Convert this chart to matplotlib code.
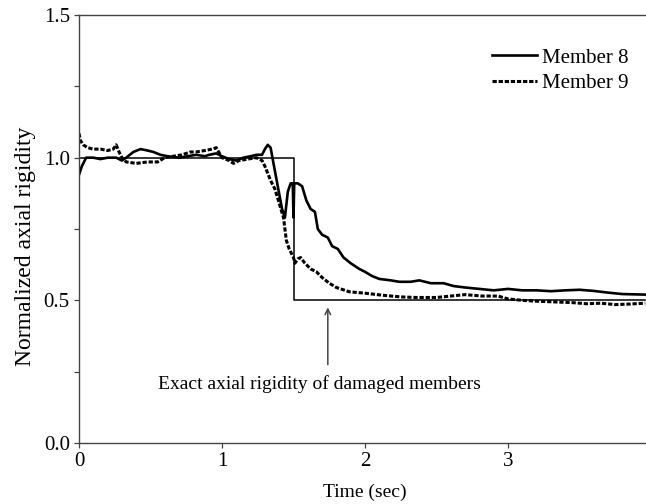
import matplotlib.pyplot as plt
from matplotlib.ticker import MultipleLocator

plt.rcParams['font.family'] = ['Liberation Serif', 'DejaVu Serif']

# Member 8 (solid)
t8 = [0.00, 0.02, 0.05, 0.10, 0.15, 0.20, 0.26, 0.30, 0.33, 0.38, 0.43, 0.48,
      0.52, 0.57, 0.62, 0.70, 0.76, 0.82, 0.88, 0.91, 0.96, 1.00, 1.05, 1.10,
      1.15, 1.20, 1.24, 1.28, 1.30, 1.32, 1.34, 1.36, 1.39, 1.42, 1.44, 1.46,
      1.48, 1.495, 1.50, 1.505, 1.53, 1.56, 1.59, 1.62, 1.65, 1.67, 1.70, 1.74,
      1.77, 1.81, 1.85, 1.90, 1.96, 2.00, 2.05, 2.10, 2.18, 2.24, 2.32, 2.38,
      2.46, 2.55, 2.62, 2.70, 2.80, 2.90, 3.00, 3.10, 3.20, 3.30, 3.40, 3.50,
      3.60, 3.70, 3.80, 3.96]
m8 = [0.94, 0.97, 1.00, 1.00, 0.995, 1.00, 1.00, 0.99, 1.00, 1.02, 1.03, 1.025,
      1.02, 1.01, 1.005, 1.00, 1.005, 1.01, 1.005, 1.01, 1.015, 1.005, 0.995, 0.99,
      1.00, 1.005, 1.01, 1.01, 1.03, 1.045, 1.035, 0.98, 0.90, 0.82, 0.79, 0.88,
      0.91, 0.91, 0.79, 0.91, 0.91, 0.90, 0.85, 0.82, 0.81, 0.75, 0.73, 0.72,
      0.69, 0.68, 0.65, 0.63, 0.61, 0.60, 0.585, 0.575, 0.57, 0.565, 0.565, 0.57,
      0.56, 0.56, 0.55, 0.545, 0.54, 0.535, 0.54, 0.535, 0.535, 0.532, 0.535, 0.537,
      0.533, 0.527, 0.522, 0.52]

# Member 9 (dashed)
t9 = [0.00, 0.01, 0.03, 0.06, 0.10, 0.15, 0.20, 0.24, 0.26, 0.28, 0.30, 0.33,
      0.40, 0.48, 0.55, 0.60, 0.66, 0.72, 0.78, 0.82, 0.88, 0.93, 0.96, 1.00,
      1.05, 1.08, 1.12, 1.18, 1.24, 1.28, 1.30, 1.34, 1.37, 1.40, 1.43, 1.45,
      1.47, 1.50, 1.51, 1.53, 1.55, 1.58, 1.62, 1.66, 1.70, 1.75, 1.80, 1.89,
      2.00, 2.12, 2.25, 2.36, 2.50, 2.60, 2.70, 2.82, 2.93, 3.00, 3.10, 3.20,
      3.30, 3.45, 3.55, 3.65, 3.75, 3.85, 3.96]
m9 = [1.085, 1.06, 1.045, 1.035, 1.03, 1.03, 1.025, 1.03, 1.045, 1.02, 1.00, 0.985,
      0.98, 0.985, 0.985, 1.00, 1.005, 1.01, 1.02, 1.02, 1.025, 1.03, 1.035, 1.00,
      0.99, 0.98, 0.99, 0.995, 1.00, 0.99, 0.97, 0.92, 0.89, 0.84, 0.79, 0.71,
      0.68, 0.65, 0.63, 0.645, 0.65, 0.63, 0.61, 0.60, 0.58, 0.56, 0.545, 0.53,
      0.525, 0.518, 0.512, 0.51, 0.51, 0.515, 0.52, 0.515, 0.515, 0.505, 0.50, 0.497,
      0.495, 0.492, 0.488, 0.49, 0.485, 0.487, 0.49]

# exact rigidity (step)
t_exact = [0.0, 1.5, 1.5, 3.96]
y_exact = [1.0, 1.0, 0.5, 0.5]

fig = plt.figure(figsize=(6.46, 5.04), dpi=100)
ax = fig.add_axes([79 / 646, 61 / 504, 572 / 646, 428 / 504])

ax.plot(t_exact, y_exact, color='black', lw=1.1)
ax.plot(t8, m8, color='black', lw=1.9, label='Member 8')
ax.plot(t9, m9, color='black', lw=2.2, linestyle=(0, (1.4, 0.6)), label='Member 9')

ax.annotate('', xy=(1.74, 0.485), xytext=(1.74, 0.265),
            arrowprops=dict(arrowstyle='->', color='#444444', lw=1.1))
ax.text(1.68, 0.205, 'Exact axial rigidity of damaged members',
        ha='center', va='center', fontsize=14)

ax.set_xlim(0, 4)
ax.set_ylim(0, 1.5)
ax.set_xticks([0, 1, 2, 3])
ax.yaxis.set_major_locator(MultipleLocator(0.5))
ax.yaxis.set_minor_locator(MultipleLocator(0.25))
ax.yaxis.set_major_formatter(plt.FormatStrFormatter('%.1f'))
ax.tick_params(direction='out', length=3.6, width=0.9, color='#444444',
               labelsize=15, pad=3)
ax.tick_params(which='minor', direction='out', length=3.6, width=0.9, color='#444444')
ax.spines['right'].set_visible(False)
for s in ['left', 'bottom', 'top']:
    ax.spines[s].set_color('#444444')
    ax.spines[s].set_linewidth(1.0)

ax.set_xlabel('Time (sec)', fontsize=14, labelpad=9)
ax.set_ylabel('Normalized axial rigidity', fontsize=17)
ax.yaxis.set_label_coords(-0.075, 0.46)

ax.legend(loc='upper left', bbox_to_anchor=(492 / 646, 1 - 48 / 504),
          bbox_transform=fig.transFigure, frameon=False, fontsize=15,
          handlelength=2.16, handletextpad=0.25, labelspacing=0.3,
          borderpad=0, borderaxespad=0)

fig.savefig('out.png', dpi=100)
